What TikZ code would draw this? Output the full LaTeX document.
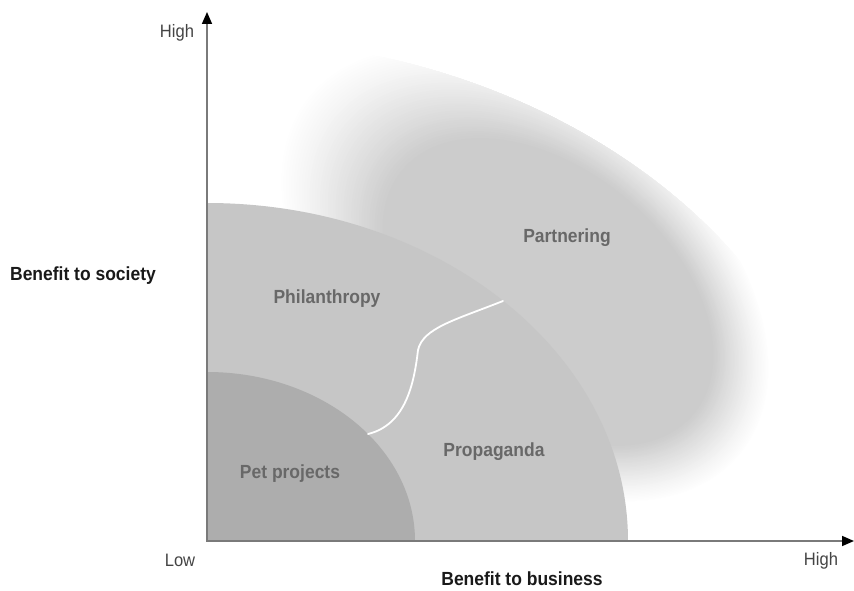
\documentclass[tikz,border=0pt]{standalone}
\usepackage{fontspec}
\setmainfont{Liberation Sans}[FakeStretch=0.92]
\usetikzlibrary{arrows.meta}
\definecolor{axisgray}{HTML}{7A7A7A}
\definecolor{zonemid}{HTML}{C6C6C6}
\definecolor{zoneinner}{HTML}{ADADAD}
\definecolor{zonetext}{HTML}{686868}
\definecolor{ticktext}{HTML}{444444}
\begin{document}
\begin{tikzpicture}[x=1pt,y=1pt,
  zonelabel/.style={font=\fontsize{19}{22}\selectfont\bfseries, text=zonetext, anchor=base, inner sep=0pt},
  axislabel/.style={font=\fontsize{19}{22}\selectfont\bfseries, text=black!90, anchor=base, inner sep=0pt},
  ticklabel/.style={font=\fontsize{18}{21}\selectfont, text=ticktext, anchor=base, inner sep=0pt},
  axisline/.style={draw=axisgray, line width=1.6pt, -{Triangle[length=12pt,width=10pt,color=black]}},
  divider/.style={draw=white, line width=1.8pt, line cap=round}]
\useasboundingbox (0,0) rectangle (854,590);
\coordinate (O) at (207,49);

% soft "Partnering" cloud: stacked ellipses from faint rim to darker core,
% cut off by a sharp outer arc
\begin{scope}
  \clip (O) ellipse [x radius=642pt, y radius=503pt];
  \foreach \k in {0,...,39}{
    \pgfmathsetmacro\t{\k/39}
    \pgfmathsetmacro\ra{280-90*\t}
    \pgfmathsetmacro\rb{180-58*\t}
    \pgfmathsetmacro\cx{525+23*\t}
    \pgfmathsetmacro\cy{315-17*\t}
    \pgfmathsetmacro\p{0.4+19.6*\t^1.15}
    \fill[black!\p, shift={(\cx,\cy)}, rotate=-40] (0,0) ellipse [x radius=\ra pt, y radius=\rb pt];
  }
\end{scope}

% Philanthropy / Propaganda zone
\fill[zonemid] (O) -- ++(421,0) arc[start angle=0, end angle=90, x radius=421pt, y radius=338pt] -- cycle;
% Pet projects zone
\fill[zoneinner] (O) -- ++(208,0) arc[start angle=0, end angle=90, x radius=208pt, y radius=169pt] -- cycle;

% white divider between Philanthropy and Propaganda
\coordinate (d0) at (368,156);
\coordinate (dm) at (418,240);
\coordinate (d1) at (503,289);
\draw[divider] (d0) .. controls (405,165) and (414,205) .. (dm) .. controls (423,262) and (455,270) .. (d1);

% axes
\coordinate (ytop) at (207,578);
\coordinate (xend) at (854,49);
\draw[axisline] ([yshift=-0.8pt]O) -- (ytop);
\draw[axisline] ([xshift=-0.8pt]O) -- (xend);

% axis texts
\node[ticklabel] (yhigh) at (177,552) {High};
\node[axislabel] (yname) at (83,309) {Benefit to society};
\node[ticklabel] (xlow) at (180,24) {Low};
\node[ticklabel] (xhigh) at (821,25) {High};
\node[axislabel] (xname) at (522,5) {Benefit to business};

% zone texts
\node[zonelabel] (partnering) at (567,347) {Partnering};
\node[zonelabel] (philanthropy) at (327,287) {Philanthropy};
\node[zonelabel] (propaganda) at (494,134) {Propaganda};
\node[zonelabel] (pet) at (290,112) {Pet projects};
\end{tikzpicture}
\end{document}
